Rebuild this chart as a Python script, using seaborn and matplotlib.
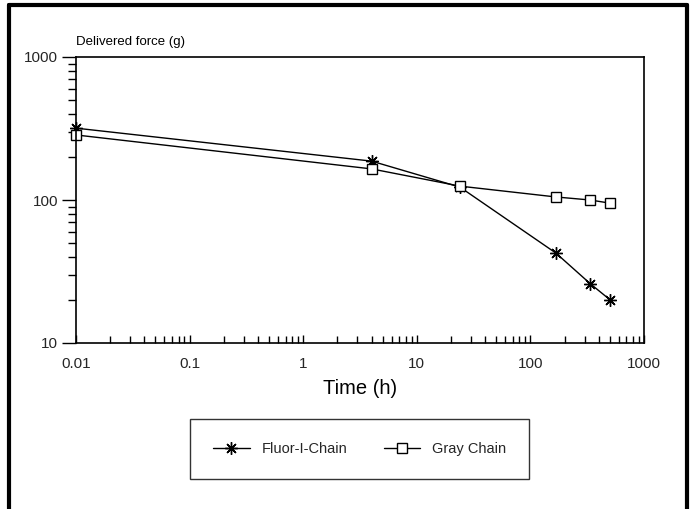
import matplotlib
matplotlib.use("Agg")
import matplotlib.pyplot as plt
import seaborn as sns
import pandas as pd
import numpy as np
from matplotlib.lines import Line2D
from matplotlib.ticker import LogLocator, NullFormatter, FixedLocator, FixedFormatter

time_h = [0.01, 4, 24, 168, 336, 504]
fluor = [318, 187, 123, 42.5, 26, 20]
gray = [285, 165, 125, 105, 100, 95]
series_names = ["Fluor-I-Chain", "Gray Chain"]

df_f = pd.DataFrame({"Time": time_h, "Force": fluor})
df_g = pd.DataFrame({"Time": time_h, "Force": gray})

sns.set_theme(style="white")
plt.rcParams["font.family"] = ["Liberation Sans", "DejaVu Sans"]

fig = plt.figure(figsize=(6.96, 5.09), dpi=100)
ax = fig.add_axes([76/696, 1-343/509, (644-76)/696, (343-57)/509])

sns.lineplot(data=df_f, x="Time", y="Force", color="black", marker=(8, 2, 0),
             ax=ax, linewidth=1.0, markersize=9, markeredgecolor="black",
             markeredgewidth=1.0, clip_on=False)
sns.lineplot(data=df_g, x="Time", y="Force", color="black", marker="s",
             ax=ax, linewidth=1.0, markersize=6.5, markerfacecolor="white",
             markeredgecolor="black", markeredgewidth=1.0, clip_on=False)

ax.set_xscale("log")
ax.set_yscale("log")
ax.set_xlim(0.01, 1000)
ax.set_ylim(10, 1000)

for s in ax.spines.values():
    s.set_color("black")
    s.set_linewidth(1.2)

ax.xaxis.set_major_locator(FixedLocator([0.01, 0.1, 1, 10, 100, 1000]))
ax.xaxis.set_major_formatter(FixedFormatter(["0.01", "0.1", "1", "10", "100", "1000"]))
ax.xaxis.set_minor_locator(LogLocator(base=10, subs=np.arange(2, 10), numticks=20))
ax.xaxis.set_minor_formatter(NullFormatter())
ax.yaxis.set_major_locator(FixedLocator([10, 100, 1000]))
ax.yaxis.set_major_formatter(FixedFormatter(["10", "100", "1000"]))
ax.yaxis.set_minor_locator(LogLocator(base=10, subs=np.arange(2, 10), numticks=20))
ax.yaxis.set_minor_formatter(NullFormatter())

ax.tick_params(axis="x", which="both", direction="in", bottom=True, top=False,
               color="black", labelsize=11, pad=10)
ax.tick_params(axis="x", which="major", length=6, width=1)
ax.tick_params(axis="x", which="minor", length=5, width=1)
ax.tick_params(axis="y", which="both", direction="out", left=True, right=False,
               color="black", labelsize=11, pad=3)
ax.tick_params(axis="y", which="major", length=10, width=1)
ax.tick_params(axis="y", which="minor", length=6, width=1)

ax.set_xlabel("Time (h)", fontsize=14.5, labelpad=6, color="black")
ax.set_ylabel("")
ax.text(0.0, 1.03, "Delivered force (g)", transform=ax.transAxes,
        fontsize=9.5, ha="left", va="bottom", color="black")
ax.grid(False)

handles = [
    Line2D([], [], color="black", lw=1.0, marker=(8, 2, 0), markersize=9,
           markeredgecolor="black", markeredgewidth=1.0),
    Line2D([], [], color="black", lw=1.0, marker="s", markersize=6.5,
           markerfacecolor="white", markeredgecolor="black", markeredgewidth=1.0),
]
leg = fig.legend(handles, series_names, loc="center",
                 bbox_to_anchor=((193+526)/2/696, 1-449/509), ncol=2,
                 frameon=True, fancybox=False, fontsize=10.5, handlelength=2.5,
                 columnspacing=2.5, borderpad=1.6, handletextpad=0.8)
leg.get_frame().set_edgecolor("black")
leg.get_frame().set_linewidth(1.0)

# outer frame
fw = 3.0
fig.add_artist(Line2D([9/696, 9/696], [0, 1-5/509], transform=fig.transFigure, color="black", lw=fw))
fig.add_artist(Line2D([687/696, 687/696], [0, 1-5/509], transform=fig.transFigure, color="black", lw=fw))
fig.add_artist(Line2D([9/696, 687/696], [1-5/509, 1-5/509], transform=fig.transFigure, color="black", lw=fw))

fig.savefig("out.png", dpi=100, facecolor="white")
